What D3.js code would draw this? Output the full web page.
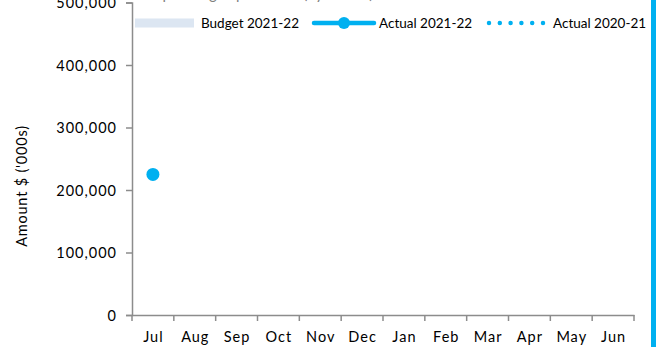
<!DOCTYPE html>
<meta charset="utf-8">
<style>
    body { margin: 0; background: #fff; }
    text { font-family: Lato, "Open Sans", sans-serif; fill: #000; }
    .axis path, .axis line { stroke: #8c8c8c; stroke-width: 1.5; }
    .axis text { font-size: 14.5px; letter-spacing: 1px; }
    .legend text { font-size: 13.5px; }
</style>
<svg width="664" height="350"></svg>
<script src="https://d3js.org/d3.v7.min.js"></script>
<script>

    var months = ["Jul", "Aug", "Sep", "Oct", "Nov", "Dec", "Jan", "Feb", "Mar", "Apr", "May", "Jun"];
    var yTicks = [0, 100000, 200000, 300000, 400000, 500000];
    // only July actuals reported so far
    var actual2122 = [225000];
    var budget2122 = [];
    var actual2021 = [];

    var svg = d3.select("svg");

    var x = d3.scaleBand().domain(months).range([132, 634]),
        y = d3.scaleLinear().domain([0, 500000]).range([315, 2.5]);

    // title, pushed mostly off the top of the frame
    svg.append("text")
        .attr("x", 262).attr("y", -1)
        .attr("text-anchor", "middle")
        .style("font-size", "15px").style("fill", "#7f7f7f")
        .text("Operating expenditure (by month)");

    svg.append("g")
        .attr("class", "axis")
        .attr("transform", "translate(132,0)")
        .call(d3.axisLeft(y).tickValues(yTicks).tickSize(6).tickPadding(9).tickFormat(d3.format(",")))
        .call(g => g.selectAll("text").attr("dy", "0.35em"));

    var xa = svg.append("g")
        .attr("class", "axis")
        .attr("transform", "translate(0,315)")
        .call(d3.axisBottom(x).tickSize(0).tickPadding(17).tickSizeOuter(0));
    xa.selectAll("text").attr("dx", "0.5px");
    // ticks sit on the band edges
    xa.selectAll(".edge")
        .data(months.concat(["end"]))
        .enter().append("line")
        .attr("class", "edge")
        .attr("x1", (d, i) => i < months.length ? x(d) : x.range()[1])
        .attr("x2", (d, i) => i < months.length ? x(d) : x.range()[1])
        .attr("y1", 0).attr("y2", 6);

    svg.append("text")
        .attr("transform", "translate(27,186) rotate(-90)")
        .attr("text-anchor", "middle")
        .style("font-size", "14.5px").style("letter-spacing", "0.8px")
        .text("Amount $ ('000s)");

    // series
    svg.selectAll(".pt")
        .data(actual2122)
        .enter().append("circle")
        .attr("class", "pt")
        .attr("cx", (d, i) => x(months[i]) + x.bandwidth() / 2)
        .attr("cy", d => y(d))
        .attr("r", 6.5)
        .attr("fill", "#00b0f0");

    // legend
    var lg = svg.append("g").attr("class", "legend").attr("transform", "translate(0,23)");
    lg.append("rect").attr("x", 135).attr("y", -4.5).attr("width", 59).attr("height", 9).attr("fill", "#dce6f2");
    lg.append("text").attr("x", 201).attr("y", 5).text("Budget 2021-22");
    lg.append("line").attr("x1", 314).attr("x2", 374).attr("y1", 0).attr("y2", 0)
        .attr("stroke", "#00b0f0").attr("stroke-width", 4.5).attr("stroke-linecap", "round");
    lg.append("circle").attr("cx", 344).attr("cy", 0).attr("r", 6).attr("fill", "#00b0f0");
    lg.append("text").attr("x", 379).attr("y", 5).text("Actual 2021-22");
    lg.append("line").attr("x1", 489).attr("x2", 544).attr("y1", 0).attr("y2", 0)
        .attr("stroke", "#00b0f0").attr("stroke-width", 4.5).attr("stroke-linecap", "round")
        .attr("stroke-dasharray", "0,10.8");
    lg.append("text").attr("x", 553).attr("y", 5).text("Actual 2020-21");

    // blue frame edge on the right
    svg.append("rect").attr("x", 651).attr("y", 0).attr("width", 5).attr("height", 347).attr("fill", "#00b0f0");

</script>
